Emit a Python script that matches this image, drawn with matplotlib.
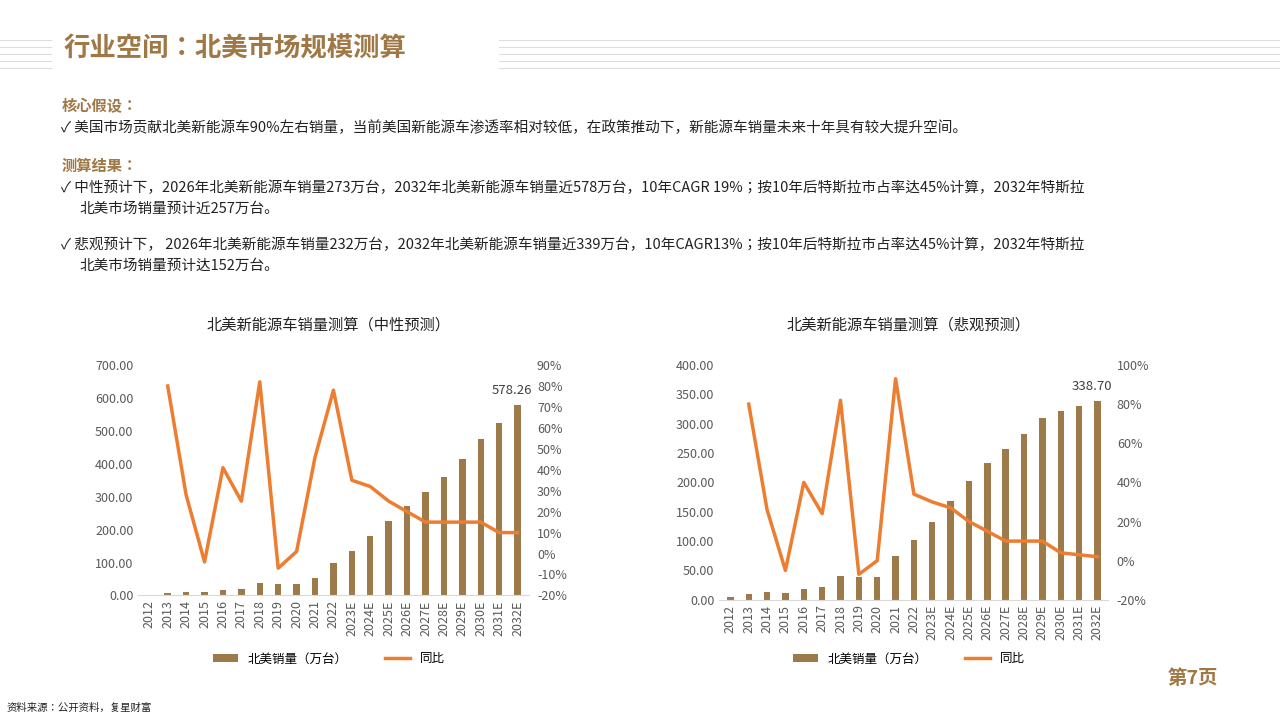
import matplotlib
matplotlib.use("Agg")
import matplotlib.pyplot as plt
from matplotlib import font_manager as fm
from matplotlib.ticker import FuncFormatter, MultipleLocator

cjk = None
for f in fm.fontManager.ttflist:
    if "CJK SC" in f.name:
        cjk = f.name
        break
if cjk is None:
    for f in fm.fontManager.ttflist:
        if "CJK" in f.name:
            cjk = f.name
            break
plt.rcParams['font.family'] = [cjk or 'Noto Sans CJK SC', 'DejaVu Sans']

years = ["2012","2013","2014","2015","2016","2017","2018","2019","2020","2021","2022",
         "2023E","2024E","2025E","2026E","2027E","2028E","2029E","2030E","2031E","2032E"]
neutral_sales = [2, 8, 11, 11, 17, 21, 38, 35, 35, 53, 100, 135, 180, 227, 273, 313, 360, 415, 475, 525, 578.26]
neutral_growth = [None, 80, 28, -4, 41, 25, 82, -7, 1, 46, 78, 35, 32, 25, 20, 15, 15, 15, 15, 10, 10]
pess_sales = [5, 10, 13, 12, 18, 22, 41, 38, 39, 75, 102, 133, 168, 202, 233, 257, 282, 310, 322, 331, 338.70]
pess_growth = [None, 80, 26, -5, 40, 24, 82, -7, 0, 93, 34, 30, 27, 20, 15, 10, 10, 10, 4, 3, 2]

BAR = "#9E7A4A"
LINE = "#ED7D31"
BROWN = "#A07845"
GREY = "#595959"

fig = plt.figure(figsize=(12.8, 7.2), dpi=100)
fig.patch.set_facecolor("white")

for yy in [0.945, 0.935, 0.925, 0.915, 0.905]:
    fig.add_artist(plt.Line2D([0.0, 0.04], [yy, yy], color="#DDDDDD", lw=0.8))
    fig.add_artist(plt.Line2D([0.39, 1.0], [yy, yy], color="#DDDDDD", lw=0.8))
fig.text(0.05, 0.932, "行业空间：北美市场规模测算", fontsize=19, fontweight="bold", color=BROWN, va="center")

fig.text(0.048, 0.853, "核心假设：", fontsize=11, fontweight="bold", color=BROWN, va="center")
fig.text(0.048, 0.822, "✓ 美国市场贡献北美新能源车90%左右销量，当前美国新能源车渗透率相对较低，在政策推动下，新能源车销量未来十年具有较大提升空间。",
         fontsize=10.5, color="#222222", va="center")
fig.text(0.048, 0.769, "测算结果：", fontsize=11, fontweight="bold", color=BROWN, va="center")
fig.text(0.048, 0.739, "✓ 中性预计下，2026年北美新能源车销量273万台，2032年北美新能源车销量近578万台，10年CAGR 19%；按10年后特斯拉市占率达45%计算，2032年特斯拉",
         fontsize=10.5, color="#222222", va="center")
fig.text(0.062, 0.710, "北美市场销量预计近257万台。", fontsize=10.5, color="#222222", va="center")
fig.text(0.048, 0.660, "✓ 悲观预计下， 2026年北美新能源车销量232万台，2032年北美新能源车销量近339万台，10年CAGR13%；按10年后特斯拉市占率达45%计算，2032年特斯拉",
         fontsize=10.5, color="#222222", va="center")
fig.text(0.062, 0.631, "北美市场销量预计达152万台。", fontsize=10.5, color="#222222", va="center")

fig.text(0.005, 0.013, "资料来源：公开资料，复星财富", fontsize=7.5, color="#222222")
fig.text(0.912, 0.05, "第7页", fontsize=14, fontweight="bold", color=BROWN)


def draw(rect, sales, growth, ymax, ystep, gmin, gmax, gstep, title, label, tx):
    ax = fig.add_axes(rect)
    x = list(range(len(years)))
    ax.bar(x, sales, width=0.35, color=BAR, label="北美销量（万台）")
    ax.set_ylim(0, ymax)
    ax.yaxis.set_major_locator(MultipleLocator(ystep))
    ax.yaxis.set_major_formatter(FuncFormatter(lambda v, p: f"{v:.2f}"))
    ax.set_xlim(-0.6, len(years) - 0.4)
    ax.set_xticks(x)
    ax.set_xticklabels(years, rotation=90)
    for s in ["top", "right", "left"]:
        ax.spines[s].set_visible(False)
    ax.spines["bottom"].set_color("#D9D9D9")
    ax.tick_params(length=0, labelsize=9, colors=GREY)
    ax.annotate(label, (x[-1], sales[-1]), xytext=(-4, 6), textcoords="offset points",
                ha="center", va="bottom", fontsize=9.5, color="#404040")
    ax2 = ax.twinx()
    gx = [xi for xi, g in zip(x, growth) if g is not None]
    gy = [g for g in growth if g is not None]
    ax2.plot(gx, gy, color=LINE, lw=2.5, label="同比")
    ax2.set_ylim(gmin, gmax)
    ax2.yaxis.set_major_locator(MultipleLocator(gstep))
    ax2.yaxis.set_major_formatter(FuncFormatter(lambda v, p: f"{v:.0f}%"))
    for s in ["top", "right", "left", "bottom"]:
        ax2.spines[s].set_visible(False)
    ax2.tick_params(length=0, labelsize=9, colors=GREY, pad=6)
    fig.text(tx, 0.548, title, fontsize=11, color="#222222", ha="center", va="center")
    h1, l1 = ax.get_legend_handles_labels()
    h2, l2 = ax2.get_legend_handles_labels()
    fig.legend(h1 + h2, l1 + l2, loc="center", bbox_to_anchor=(tx, 0.085), ncol=2,
               frameon=False, fontsize=9, handlelength=2.0, columnspacing=3)


draw([0.108, 0.173, 0.305, 0.32], neutral_sales, neutral_growth, 700, 100, -20, 90, 10,
     "北美新能源车销量测算（中性预测）", "578.26", 0.257)
draw([0.562, 0.167, 0.304, 0.326], pess_sales, pess_growth, 400, 50, -20, 100, 20,
     "北美新能源车销量测算（悲观预测）", "338.70", 0.710)

fig.savefig("out.png", dpi=100)
